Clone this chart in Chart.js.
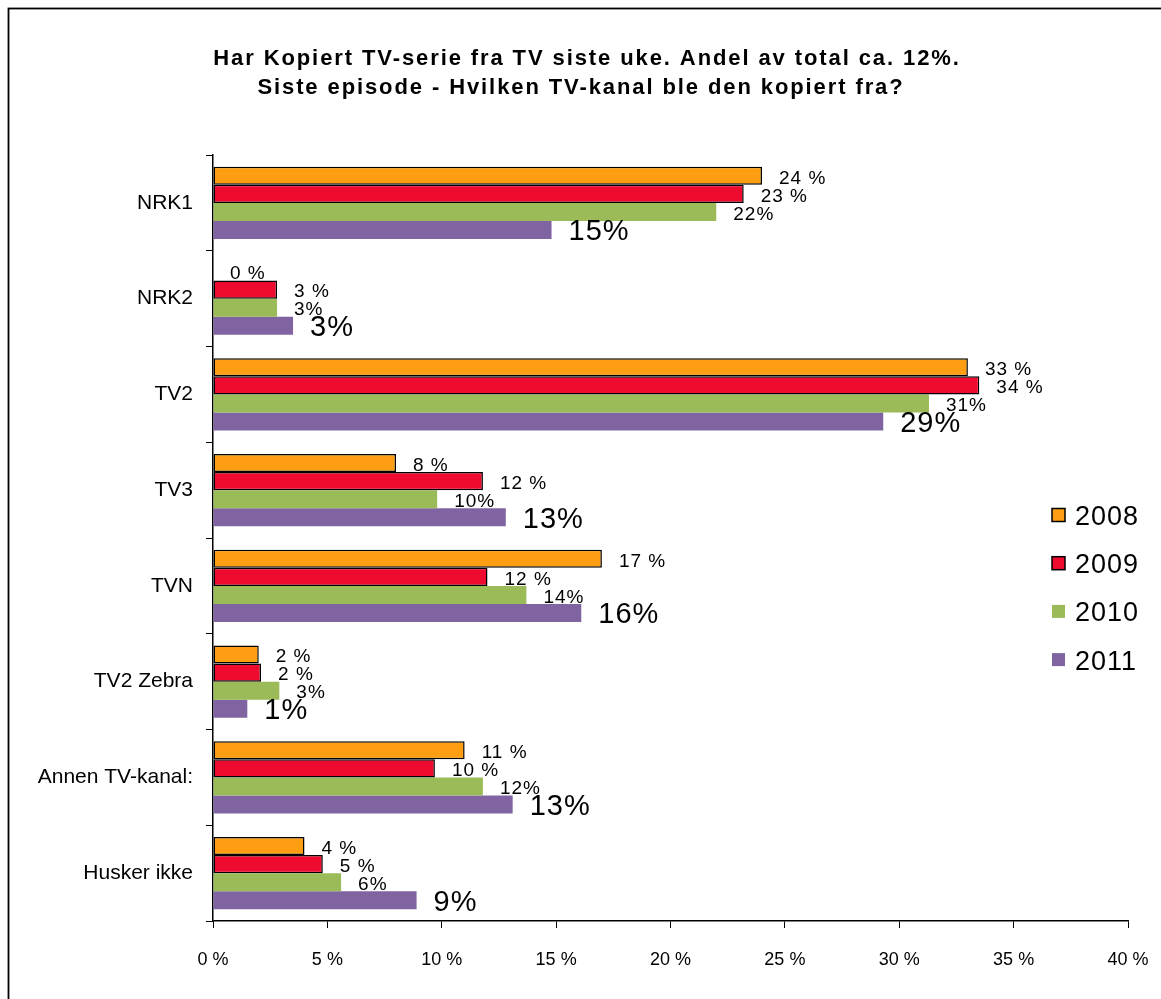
<!DOCTYPE html>
<html>
<head>
<meta charset="utf-8">
<script src="https://cdn.jsdelivr.net/npm/chart.js@4.4.1/dist/chart.umd.min.js"></script>
<style>
  html, body { margin: 0; padding: 0; background: #fff; }
  #c { display: block; }
</style>
</head>
<body>
<canvas id="c" width="1161" height="999"></canvas>
<script>
const titleLines = [
  'Har Kopiert TV-serie fra TV siste uke. Andel av total ca. 12%.',
  'Siste episode - Hvilken TV-kanal ble den kopiert fra?'
];
const categories = ['NRK1', 'NRK2', 'TV2', 'TV3', 'TVN', 'TV2 Zebra', 'Annen TV-kanal:', 'Husker ikke'];
const years = ['2008', '2009', '2010', '2011'];

const values2008 = [24.0, 0, 33.0, 8.0, 17.0, 2.0, 11.0, 4.0];
const values2009 = [23.2, 2.8, 33.5, 11.8, 12.0, 2.1, 9.7, 4.8];
const values2010 = [22.0, 2.8, 31.3, 9.8, 13.7, 2.9, 11.8, 5.6];
const values2011 = [14.8, 3.5, 29.3, 12.8, 16.1, 1.5, 13.1, 8.9];

const labels2008 = ['24 %', '0 %', '33 %', '8 %', '17 %', '2 %', '11 %', '4 %'];
const labels2009 = ['23 %', '3 %', '34 %', '12 %', '12 %', '2 %', '10 %', '5 %'];
const labels2010 = ['22%', '3%', '31%', '10%', '14%', '3%', '12%', '6%'];
const labels2011 = ['15%', '3%', '29%', '13%', '16%', '1%', '13%', '9%'];

const xTickMin = 0, xTickMax = 40, xTickStep = 5;

const FONT = '"Liberation Sans", Arial, sans-serif';
const colors = ['#FF9E12', '#EF0A2F', '#9BBB59', '#8064A2'];
const borders = ['#000000', '#000000', null, null];
const valueSets = [values2008, values2009, values2010, values2011];
const labelSets = [labels2008, labels2009, labels2010, labels2011];
const labelFonts = ['19px', '19px', '19px', '29px'];
const labelSpacing = ['1px', '1px', '1px', '1px'];

const datasets = years.map((y, i) => ({
  label: y,
  data: valueSets[i],
  backgroundColor: colors[i],
  borderColor: borders[i] || colors[i],
  borderWidth: borders[i] ? 1.5 : 0,
  borderSkipped: false,
  categoryPercentage: 0.753,
  barPercentage: 1.0
}));

const decorPlugin = {
  id: 'decor',
  beforeDraw(chart) {
    const ctx = chart.ctx;
    ctx.save();
    ctx.fillStyle = '#fff';
    ctx.fillRect(0, 0, chart.width, chart.height);
    ctx.strokeStyle = '#000';
    ctx.lineWidth = 1.8;
    ctx.strokeRect(8.5, 8.5, 1300, 1300);
    ctx.restore();
  },
  afterDatasetsDraw(chart) {
    const ctx = chart.ctx;
    ctx.save();
    // data labels
    chart.data.datasets.forEach((ds, di) => {
      const meta = chart.getDatasetMeta(di);
      ctx.font = labelFonts[di] + ' ' + FONT;
      ctx.letterSpacing = labelSpacing[di];
      ctx.fillStyle = '#000';
      ctx.textAlign = 'left';
      ctx.textBaseline = 'middle';
      meta.data.forEach((el, i) => {
        ctx.fillText(labelSets[di][i], el.x + 17, el.y + 2.5);
      });
    });
    // title
    ctx.font = 'bold 22px ' + FONT;
    ctx.letterSpacing = '1.9px';
    ctx.textAlign = 'center';
    ctx.textBaseline = 'middle';
    ctx.fillText(titleLines[0], 587, 58.5);
    ctx.fillText(titleLines[1], 581, 87.5);
    // legend
    ctx.letterSpacing = '1px';
    ctx.font = '27px ' + FONT;
    ctx.textAlign = 'left';
    chart.data.datasets.forEach((ds, di) => {
      const cy = 515 + di * 48.2;
      ctx.fillStyle = ds.backgroundColor;
      ctx.fillRect(1052, cy - 6.5, 13, 13);
      if (borders[di]) {
        ctx.strokeStyle = '#000';
        ctx.lineWidth = 1.5;
        ctx.strokeRect(1052, cy - 6.5, 13, 13);
      }
      ctx.fillStyle = '#000';
      ctx.fillText(ds.label, 1075, cy + 2.5);
    });
    ctx.letterSpacing = '0px';
    ctx.restore();
  }
};

new Chart(document.getElementById('c'), {
  type: 'bar',
  data: { labels: categories, datasets },
  options: {
    indexAxis: 'y',
    responsive: false,
    animation: false,
    devicePixelRatio: 1,
    layout: { padding: { top: 155, right: 33, left: 0, bottom: 0 } },
    plugins: {
      legend: { display: false },
      title: { display: false },
      tooltip: { enabled: false }
    },
    scales: {
      x: {
        type: 'linear',
        min: xTickMin,
        max: xTickMax,
        ticks: {
          stepSize: xTickStep,
          callback: v => v + ' %',
          color: '#000',
          font: { family: FONT, size: 18 },
          padding: 21,
          maxRotation: 0
        },
        grid: { drawOnChartArea: false, drawTicks: true, tickLength: 7, color: '#000', lineWidth: 1 },
        border: { color: '#000', width: 1.5 },
        afterFit: s => { s.height = 78; s.paddingLeft = 0; s.paddingRight = 0; }
      },
      y: {
        type: 'category',
        ticks: {
          color: '#000',
          font: { family: FONT, size: 21 },
          padding: 13
        },
        grid: { drawOnChartArea: false, drawTicks: true, tickLength: 7, color: '#000', lineWidth: 1, offset: true },
        border: { color: '#000', width: 1.5 },
        afterFit: s => { s.width = 213; s.paddingTop = 0; s.paddingBottom = 0; }
      }
    }
  },
  plugins: [decorPlugin]
});
</script>
</body>
</html>
